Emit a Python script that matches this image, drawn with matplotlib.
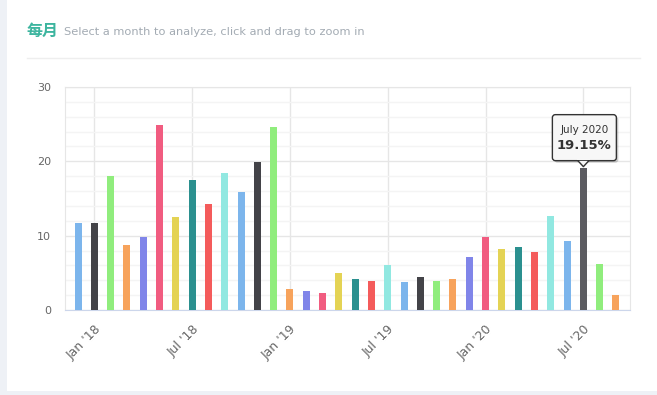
import matplotlib.pyplot as plt
from matplotlib.patches import FancyBboxPatch, Polygon, Rectangle
from matplotlib.lines import Line2D
from matplotlib.transforms import IdentityTransform

# monthly share, Dec 2017 .. Sep 2020
months = ['Dec 2017', 'January 2018', 'February 2018', 'March 2018', 'April 2018', 'May 2018',
          'June 2018', 'July 2018', 'August 2018', 'September 2018', 'October 2018',
          'November 2018', 'December 2018', 'January 2019', 'February 2019', 'March 2019',
          'April 2019', 'May 2019', 'June 2019', 'July 2019', 'August 2019', 'September 2019',
          'October 2019', 'November 2019', 'December 2019', 'January 2020', 'February 2020',
          'March 2020', 'April 2020', 'May 2020', 'June 2020', 'July 2020', 'August 2020',
          'September 2020']
values = [11.7, 11.7, 18.0, 8.75, 9.8, 24.9, 12.5, 17.5, 14.25, 18.4, 15.9, 19.9, 24.6,
          2.8, 2.55, 2.3, 5.0, 4.15, 3.9, 6.05, 3.8, 4.45, 3.9, 4.15, 7.15, 9.8, 8.2,
          8.5, 7.8, 12.65, 9.3, 19.15, 6.2, 2.0]
tick_pos = [1, 7, 13, 19, 25, 31]
tick_labels = ["Jan '18", "Jul '18", "Jan '19", "Jul '19", "Jan '20", "Jul '20"]
hover = 31  # July 2020

palette = ['#7cb5ec', '#434348', '#90ed7d', '#f7a35c', '#8085e9',
           '#f15c80', '#e4d354', '#2b908f', '#f45b5b', '#91e8e1']
colors = [palette[i % 10] for i in range(len(values))]
colors[hover] = '#5c5c61'

fig = plt.figure(figsize=(6.57, 3.95), dpi=100)
fig.patch.set_facecolor('#eef1f6')
fig.patches.append(Rectangle((7 / 657, 4 / 395), 650 / 657, 391 / 395, transform=fig.transFigure,
                             facecolor='white', edgecolor='none', zorder=-1))

fig.text(27 / 657, 1 - 31 / 395, '每月', family=['Noto Sans CJK SC', 'DejaVu Sans'],
         color='#3db59f', fontsize=11.5, fontweight='bold', va='center')
fig.text(64 / 657, 1 - 32 / 395, 'Select a month to analyze, click and drag to zoom in',
         color='#a3abb3', fontsize=8.2, va='center')
fig.lines.append(Line2D([27 / 657, 640 / 657], [1 - 58 / 395] * 2, transform=fig.transFigure,
                        color='#eeeeee', lw=1))

ax = fig.add_axes([65 / 657, 1 - 310 / 395, 565 / 657, 223 / 395])
ax.set_zorder(1)
x = list(range(len(values)))
ax.bar(x, values, width=0.43, color=colors, zorder=3)

ax.set_xlim(-0.8, len(values) - 1 + 0.86)
ax.set_ylim(0, 30)
ax.set_yticks([0, 10, 20, 30])
ax.set_yticks(range(0, 31, 2), minor=True)
ax.set_xticks(tick_pos)
ax.set_xticklabels(tick_labels, rotation=45, ha='right', rotation_mode='anchor')
ax.tick_params(axis='both', length=0, labelcolor='#666666')
ax.tick_params(axis='y', pad=10, labelsize=8)
ax.tick_params(axis='x', pad=9, labelsize=9)
ax.tick_params(axis='y', which='minor', length=0)
ax.grid(axis='y', which='major', color='#e6e6e6', lw=1, zorder=0)
ax.grid(axis='y', which='minor', color='#f4f4f4', lw=1, zorder=0)
ax.grid(axis='x', which='major', color='#e6e6e6', lw=1, zorder=0)
for s in ['left', 'right', 'top']:
    ax.spines[s].set_color('#e6e6e6')
ax.spines['bottom'].set_color('#ccd6eb')

# tooltip for hovered month
px, py = ax.transData.transform((hover, values[hover]))
bw, bh = 64, 46
bx, by = px - bw / 2 + 1, py + 7
ident = IdentityTransform()
tip = []
tip.append(FancyBboxPatch((bx + 2, by - 2), bw, bh, boxstyle='round,pad=0,rounding_size=3',
                          transform=ident, facecolor='#00000030', edgecolor='none', zorder=5))
tip.append(FancyBboxPatch((bx, by), bw, bh, boxstyle='round,pad=0,rounding_size=3',
                          transform=ident, facecolor='#f7f7f7', edgecolor='#333333', lw=1, zorder=6))
tip.append(Polygon([(px - 6, by + 0.5), (px + 6, by + 0.5), (px, by - 6)], closed=True,
                   transform=ident, facecolor='#f7f7f7', edgecolor='#333333', lw=1, zorder=6))
tip.append(Rectangle((px - 6.5, by + 0.5), 13, 2, transform=ident,
                     facecolor='#f7f7f7', edgecolor='none', zorder=7))
for p in tip:
    fig.patches.append(p)
fig.text((px + 1) / 657, (by + 31) / 395, months[hover], fontsize=7.5, color='#333333',
         ha='center', va='center', zorder=8)
fig.text((px + 1) / 657, (by + 15) / 395, '%.2f%%' % values[hover], fontsize=9.5,
         fontweight='bold', color='#333333', ha='center', va='center', zorder=8)

fig.savefig('out.png', dpi=100, facecolor=fig.get_facecolor())
